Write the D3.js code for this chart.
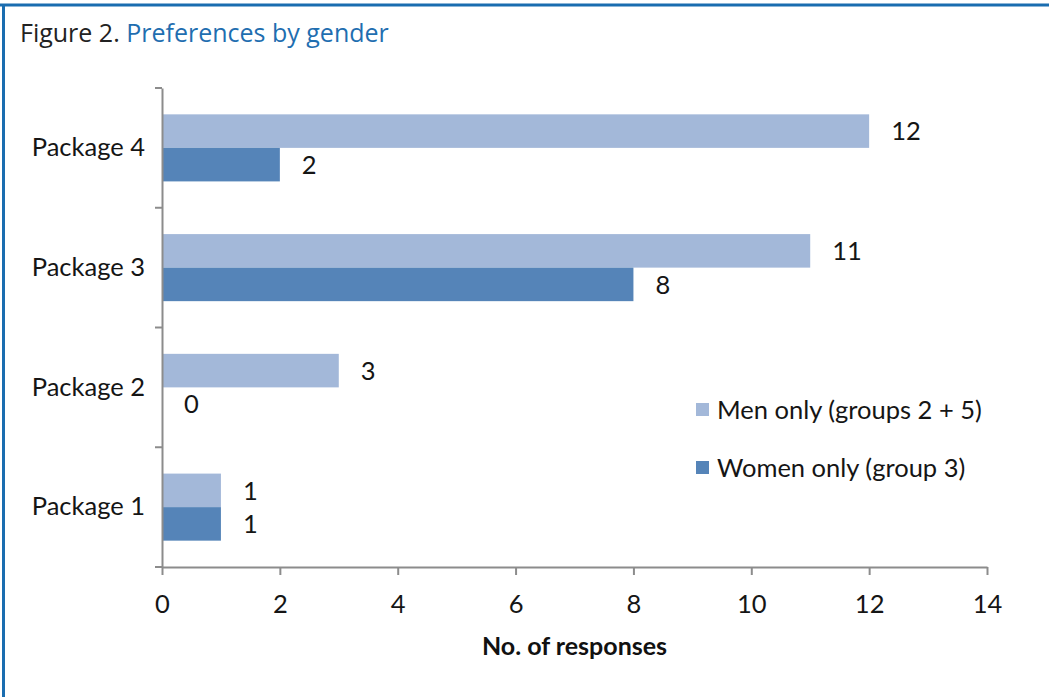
<!DOCTYPE html>
<html>
<head>
<meta charset="utf-8">
<script src="https://cdn.jsdelivr.net/npm/d3@7"></script>
<style>
  body { margin: 0; background: #fff; }
  svg { display: block; }
  .lbl { font-family: Lato, "Open Sans", sans-serif; font-size: 25.5px; fill: #151515; }
</style>
</head>
<body>
<svg id="chart" width="1049" height="697"></svg>
<script>
// chart data
var packages = ["Package 4", "Package 3", "Package 2", "Package 1"];
var menValues = [12, 11, 3, 1];
var womenValues = [2, 8, 0, 1];
var seriesNames = ["Men only (groups 2 + 5)", "Women only (group 3)"];
var xTicks = [0, 2, 4, 6, 8, 10, 12, 14];

const svg = d3.select('#chart'),
    width = +svg.attr('width'),
    height = +svg.attr('height');

var colors = ["#a3b8d9", "#5584b8"];

// frame
svg.append("line").attr("x1", 0).attr("x2", width).attr("y1", 5).attr("y2", 5)
    .attr("stroke", "#1a6db0").attr("stroke-width", 3);
svg.append("line").attr("x1", 3.5).attr("x2", 3.5).attr("y1", 4).attr("y2", height)
    .attr("stroke", "#1a6db0").attr("stroke-width", 3);

// title
var title = svg.append("text")
    .attr("x", 20).attr("y", 42)
    .style("font-family", "'Open Sans', sans-serif")
    .style("font-size", "25px");
title.append("tspan").attr("fill", "#222").text("Figure 2. ");
title.append("tspan").attr("fill", "#1f6eb0").text("Preferences by gender");

var margin = { left: 162, right: 62, top: 88, bottom: 130 };
var x = d3.scaleLinear().domain([0, 14]).range([margin.left, width - margin.right]);
var y = d3.scaleBand().domain(packages).range([margin.top, height - margin.bottom]);
var sub = d3.scaleBand().domain([0, 1]).range([0, y.bandwidth() * 0.56]);
var offset = y.bandwidth() * 0.22;

var rows = packages.map((p, i) => ({ name: p, values: [menValues[i], womenValues[i]] }));

var g = svg.append("g");
var groups = g.selectAll(".row")
    .data(rows)
    .enter().append("g")
    .attr("transform", d => "translate(0," + (y(d.name) + offset) + ")");

groups.selectAll("rect")
    .data(d => d.values.map((v, j) => ({ v: v, j: j })))
    .enter().append("rect")
    .attr("x", x(0))
    .attr("y", d => sub(d.j))
    .attr("width", d => x(d.v) - x(0))
    .attr("height", sub.bandwidth())
    .attr("fill", d => colors[d.j]);

groups.selectAll(".val")
    .data(d => d.values.map((v, j) => ({ v: v, j: j })))
    .enter().append("text")
    .attr("class", "lbl")
    .attr("x", d => x(d.v) + 22)
    .attr("y", d => sub(d.j) + sub.bandwidth() / 2)
    .attr("dy", "0.36em")
    .text(d => d.v);

// axes
var axisColor = "#8c8c8c";
var xAxis = svg.append("g")
    .attr("transform", "translate(0," + (height - margin.bottom) + ")")
    .call(d3.axisBottom(x).tickValues(xTicks).tickSize(8).tickSizeOuter(0).tickPadding(20));
xAxis.select(".domain").attr("stroke", axisColor).attr("stroke-width", 2);
xAxis.selectAll(".tick line").attr("stroke", axisColor).attr("stroke-width", 2);
xAxis.selectAll(".tick text").attr("class", "lbl").attr("fill", "#151515").attr("font-size", null).attr("font-family", null);

var yAxis = svg.append("g")
    .attr("transform", "translate(" + margin.left + ",0)")
    .call(d3.axisLeft(y).tickSize(0).tickPadding(17));
yAxis.select(".domain").attr("stroke", axisColor).attr("stroke-width", 2);
yAxis.selectAll(".tick text").attr("class", "lbl").attr("fill", "#151515").attr("font-size", null).attr("font-family", null);

// category boundary ticks
svg.append("g").selectAll("line")
    .data(packages.concat(["end"]))
    .enter().append("line")
    .attr("x1", margin.left - 7).attr("x2", margin.left)
    .attr("y1", (d, i) => margin.top + i * y.step())
    .attr("y2", (d, i) => margin.top + i * y.step())
    .attr("stroke", axisColor).attr("stroke-width", 2);

svg.append("text")
    .attr("x", (x(0) + x(14)) / 2).attr("y", 655)
    .attr("text-anchor", "middle")
    .style("font-family", "Lato, 'Open Sans', sans-serif")
    .style("font-weight", "bold").style("font-size", "25px").attr("fill", "#111")
    .text("No. of responses");

// legend
var legend = svg.append("g").attr("transform", "translate(696,403)");
var items = legend.selectAll("g")
    .data(seriesNames)
    .enter().append("g")
    .attr("transform", (d, i) => "translate(0," + i * 58 + ")");
items.append("rect").attr("width", 13).attr("height", 13).attr("fill", (d, i) => colors[i]);
items.append("text").attr("class", "lbl").attr("x", 21).attr("y", 7).attr("dy", "0.36em").text(d => d);
</script>
</body>
</html>
